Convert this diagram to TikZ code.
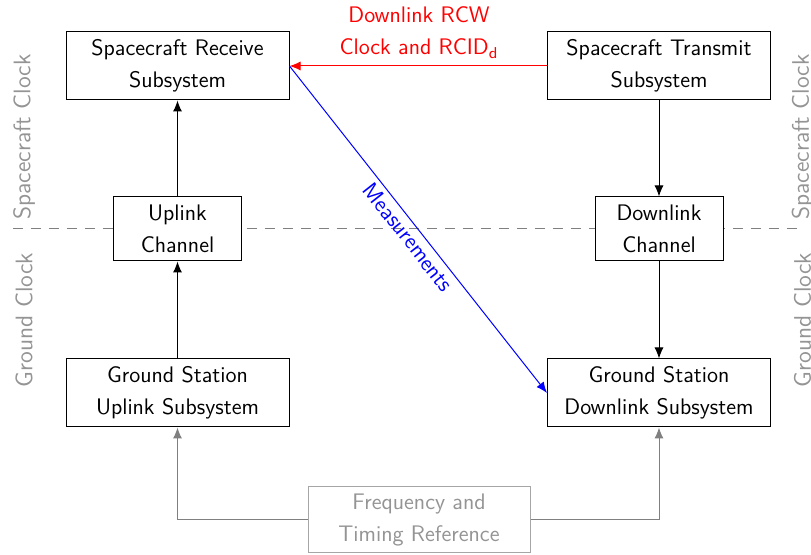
\documentclass[tikz,border=0pt]{standalone}
\usepackage{fontspec}
\usetikzlibrary{arrows.meta}
\definecolor{labgray}{gray}{0.58}
\definecolor{boxgray}{gray}{0.65}
\definecolor{linegray}{gray}{0.5}
\begin{document}
\begin{tikzpicture}[x=0.5pt,y=-0.5pt,
  every node/.style={font=\sffamily\fontsize{11.25}{16}\selectfont, inner sep=2pt},
  sysbox/.style={draw=black, fill=white, align=center, line width=0.5pt},
  bigbox/.style={sysbox, minimum width=111.5pt, minimum height=34pt},
  chanbox/.style={sysbox, minimum width=64pt, minimum height=32pt},
  refbox/.style={draw=boxgray, fill=white, text=labgray, align=center, line width=0.5pt, minimum width=111pt, minimum height=33pt},
  arr/.style={-{Latex[length=5.5pt,width=4.5pt]}, line width=0.5pt},
  clocklab/.style={rotate=90, text=labgray, font=\sffamily\fontsize{12}{14}\selectfont},
  dashline/.style={draw=linegray, dash pattern=on 5pt off 4pt, line width=0.5pt}
]
\useasboundingbox (0,0) rectangle (811,555);

\coordinate (dl) at (13,229);
\coordinate (dr) at (798,229);
\draw[dashline] (dl) -- (dr);

\node[clocklab] (scl) at (24,137) {Spacecraft Clock};
\node[clocklab] (gcl) at (24,320) {Ground Clock};
\node[clocklab] (scr) at (802.5,137) {Spacecraft Clock};
\node[clocklab] (gcr) at (802.5,320) {Ground Clock};

\node[bigbox] (srs) at (177.5,66) {Spacecraft Receive\\Subsystem};
\node[bigbox] (sts) at (659,66) {Spacecraft Transmit\\Subsystem};
\node[chanbox] (upc) at (177.5,229) {Uplink\\Channel};
\node[chanbox] (dnc) at (659,229) {Downlink\\Channel};
\node[bigbox] (gsu) at (177.5,393) {Ground Station\\Uplink Subsystem};
\node[bigbox] (gsd) at (659,393) {Ground Station\\Downlink Subsystem};
\node[refbox] (ref) at (419,520) {Frequency and\\Timing Reference};

\node[text=red, align=center] (rcw) at (419,32.5) {Downlink RCW\\Clock and RCID\textsubscript{d}};

\draw[arr, red] (sts.west) -- (srs.east);
\draw[arr, blue] (srs.east) -- node[sloped, below, text=blue, pos=0.5] (meas) {Measurements} (gsd.west);
\draw[arr] (upc.north) -- (srs.south);
\draw[arr] (gsu.north) -- (upc.south);
\draw[arr] (sts.south) -- (dnc.north);
\draw[arr] (dnc.south) -- (gsd.north);
\draw[arr, linegray] (ref.west) -| (gsu.south);
\draw[arr, linegray] (ref.east) -| (gsd.south);
\end{tikzpicture}
\end{document}
